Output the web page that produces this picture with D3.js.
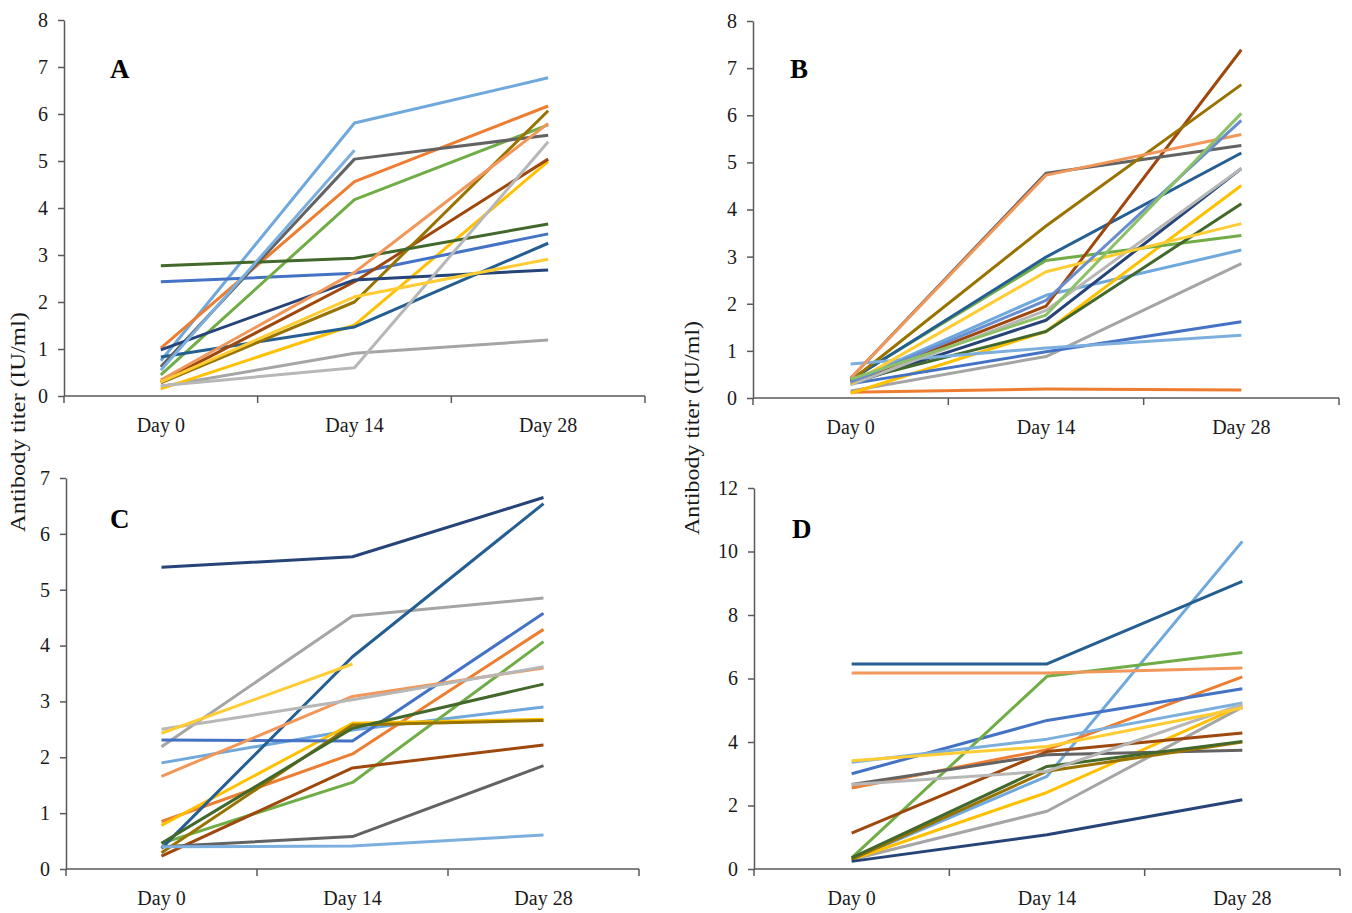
<!DOCTYPE html>
<html>
<head>
<meta charset="utf-8">
<script src="https://cdn.jsdelivr.net/npm/d3@7"></script>
<style>
  body { margin: 0; background: #fff; }
  svg { display: block; font-family: "Liberation Serif", "Times New Roman", serif; }
</style>
</head>
<body>
<script>
// categories
const days = ["Day 0", "Day 14", "Day 28"]

// line colours, in series order
const seriesColors = ["#6FA8DC", "#ED7D31", "#A5A5A5", "#FFC000", "#4472C4", "#70AD47",
                      "#255E91", "#9E480E", "#636363", "#997300", "#264478", "#43682B",
                      "#7CAFDD", "#F1975A", "#B7B7B7", "#FFCD33", "#698ED0", "#8CC168"]

// antibody titres, one row per subject: [Day 0, Day 14, Day 28]
const panelA = [
    [0.75, 5.81, 6.77], [1.02, 4.56, 6.17], [0.20, 0.91, 1.19], [0.15, 1.51, 4.99],
    [2.43, 2.61, 3.45], [0.45, 4.18, 5.77], [0.83, 1.47, 3.25], [0.30, 2.43, 5.04],
    [0.62, 5.04, 5.55], [0.28, 2.00, 6.07], [0.98, 2.47, 2.68], [2.77, 2.93, 3.66],
    [0.55, 5.23, null], [0.34, 2.63, 5.80], [0.22, 0.60, 5.41], [0.30, 2.11, 2.91]
]
const panelB = [
    [0.35, 2.18, 3.14], [0.12, 0.19, 0.17], [0.15, 0.88, 2.85], [0.10, 1.41, 4.51],
    [0.30, 0.98, 1.62], [0.40, 2.92, 3.45], [0.38, 2.99, 5.20], [0.33, 1.95, 7.39],
    [0.42, 4.77, 5.36], [0.36, 3.65, 6.65], [0.30, 1.65, 4.87], [0.35, 1.41, 4.12],
    [0.72, 1.06, 1.33], [0.42, 4.73, 5.59], [0.28, 1.86, 4.87], [0.30, 2.68, 3.70],
    [0.33, 2.07, 5.89], [0.40, 1.76, 6.04]
]
const panelC = [
    [1.90, 2.49, 2.90], [0.85, 2.06, 4.29], [2.19, 4.53, 4.85], [0.78, 2.61, 2.68],
    [2.31, 2.29, 4.58], [0.46, 1.55, 4.07], [0.37, 3.80, 6.54], [0.23, 1.81, 2.22],
    [0.40, 0.58, 1.85], [0.29, 2.58, 2.66], [5.40, 5.59, 6.65], [0.46, 2.52, 3.31],
    [0.40, 0.41, 0.61], [1.66, 3.09, 3.60], [2.50, 3.03, 3.62], [2.43, 3.67, null]
]
const panelD = [
    [0.30, 2.92, 10.32], [2.55, 3.76, 6.05], [0.30, 1.82, 5.10], [0.30, 2.41, 5.15],
    [3.00, 4.68, 5.68], [0.35, 6.07, 6.82], [6.46, 6.46, 9.06], [1.13, 3.70, 4.28],
    [2.66, 3.60, 3.74], [0.30, 3.08, 4.00], [0.24, 1.08, 2.18], [0.35, 3.23, 4.02],
    [3.36, 4.09, 5.23], [6.17, 6.17, 6.33], [2.66, 3.08, 5.18], [3.41, 3.86, 5.07]
]

// y tick labels per panel
const ticksA = [0, 1, 2, 3, 4, 5, 6, 7, 8]
const ticksB = [0, 1, 2, 3, 4, 5, 6, 7, 8]
const ticksC = [0, 1, 2, 3, 4, 5, 6, 7]
const ticksD = [0, 2, 4, 6, 8, 10, 12]

const yTitle = "Antibody titer (IU/ml)"

const W = 1352
const H = 913
const axisColor = "#595959"

const panels = [
    {name: "A", rows: panelA, ticks: ticksA, x0: 64,  x1: 645,  top: 20,  bottom: 396, lx: 110, ly: 78},
    {name: "B", rows: panelB, ticks: ticksB, x0: 753, x1: 1339, top: 21,  bottom: 398, lx: 790, ly: 78},
    {name: "C", rows: panelC, ticks: ticksC, x0: 66,  x1: 639,  top: 478, bottom: 869, lx: 110, ly: 528},
    {name: "D", rows: panelD, ticks: ticksD, x0: 754, x1: 1340, top: 488, bottom: 869, lx: 792, ly: 538}
]

const svg = d3.select("body")
              .append("svg")
              .attr("width", W)
              .attr("height", H)

panels.forEach((p) => {
    const x = d3.scaleBand()
                .domain(days)
                .range([p.x0, p.x1])
                .padding(0)
    const y = d3.scaleLinear()
                .domain([0, d3.max(p.ticks)])
                .range([p.bottom, p.top])

    const g = svg.append("g")

    // lines
    const line = d3.line()
                   .defined((d) => d !== null)
                   .x((d, i) => x(days[i]) + x.bandwidth() / 2)
                   .y((d) => y(d))
    g.selectAll("path.series")
     .data(p.rows)
     .enter()
     .append("path")
     .attr("class", "series")
     .attr("d", (d) => line(d))
     .attr("fill", "none")
     .attr("stroke", (d, i) => seriesColors[i % seriesColors.length])
     .attr("stroke-width", 3)
     .attr("stroke-linejoin", "round")

    // y axis
    const yAxis = g.append("g")
                   .attr("transform", "translate(" + p.x0 + ",0)")
                   .call(d3.axisLeft(y).tickValues(p.ticks).tickFormat(d3.format("d"))
                           .tickSize(6).tickSizeOuter(0).tickPadding(10))
    yAxis.select(".domain").attr("stroke", axisColor).attr("stroke-width", 1.5)
    yAxis.selectAll(".tick line").attr("stroke", axisColor).attr("stroke-width", 1.5)
    yAxis.selectAll(".tick text")
         .attr("font-size", 20)
         .attr("font-family", "Liberation Serif, Times New Roman, serif")
         .attr("fill", "#1a1a1a")

    // x axis: line, boundary ticks, centred labels
    const xAxis = g.append("g")
    xAxis.append("line")
         .attr("x1", p.x0).attr("x2", p.x1)
         .attr("y1", p.bottom).attr("y2", p.bottom)
         .attr("stroke", axisColor).attr("stroke-width", 1.5)
    const edges = days.map((d) => x(d)).concat([x(days[days.length - 1]) + x.bandwidth()])
    xAxis.selectAll("line.edge")
         .data(edges)
         .enter()
         .append("line")
         .attr("class", "edge")
         .attr("x1", (d) => d).attr("x2", (d) => d)
         .attr("y1", p.bottom).attr("y2", p.bottom + 7)
         .attr("stroke", axisColor).attr("stroke-width", 1.5)
    xAxis.selectAll("text")
         .data(days)
         .enter()
         .append("text")
         .attr("x", (d) => x(d) + x.bandwidth() / 2)
         .attr("y", p.bottom + 36)
         .attr("text-anchor", "middle")
         .attr("font-size", 20)
         .attr("fill", "#1a1a1a")
         .text((d) => d)

    // panel letter
    g.append("text")
     .attr("x", p.lx)
     .attr("y", p.ly)
     .attr("font-size", 27)
     .attr("font-weight", "bold")
     .attr("fill", "#000")
     .text(p.name)
})

// shared y titles
const titles = [{x: 25, y: 422, len: 220}, {x: 699, y: 428, len: 214}]
svg.selectAll("text.ytitle")
   .data(titles)
   .enter()
   .append("text")
   .attr("class", "ytitle")
   .attr("transform", (d) => "translate(" + d.x + "," + d.y + ") rotate(-90)")
   .attr("text-anchor", "middle")
   .attr("font-size", 20)
   .attr("textLength", (d) => d.len)
   .attr("lengthAdjust", "spacingAndGlyphs")
   .attr("fill", "#1a1a1a")
   .text(yTitle)
</script>
</body>
</html>
